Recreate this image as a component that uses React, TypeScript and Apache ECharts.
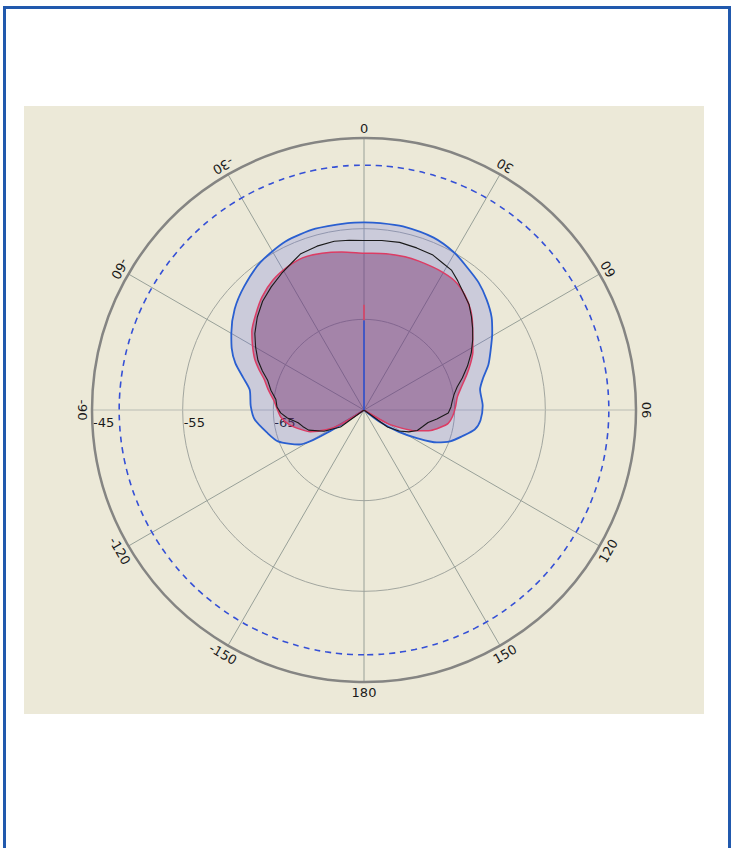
import React, { useEffect, useRef } from "react";
import * as echarts from "echarts";

// ---- data (angle in degrees clockwise from top, level in dB) ----
const ANGLE_TICKS = [0, 30, 60, 90, 120, 150, 180, -150, -120, -90, -60, -30];
const RADIUS_TICKS = [-45, -55, -65];
const R_MIN = -75;
const R_MAX = -45;
const LIMIT_DB = -48;

const BLUE_ANGLES = [-180, -125, -122, -118, -110, -103, -95, -88, -80, -75, -70, -65, -60, -52, -44, -35, -25, -15, -5, 0, 5, 12, 22, 30, 36, 42, 48, 54, 59, 65, 70, 75, 80, 88, 95, 100, 105, 110, 114, 118, 122, 127, 132, 180];
const BLUE_DB = [-75, -75, -70.6, -66.9, -64.9, -64.0, -62.9, -62.5, -62.2, -61.2, -59.9, -58.9, -58.1, -56.9, -56.0, -55.1, -54.5, -54.3, -54.3, -54.3, -54.3, -54.3, -54.5, -55.0, -55.6, -56.1, -56.8, -57.6, -58.5, -59.6, -60.4, -61.4, -62.0, -61.9, -62.1, -62.6, -63.8, -64.9, -66.2, -68.4, -70.4, -72.8, -75, -75];

const BLACK_ANGLES = [-180, -132, -126, -118, -110, -105, -101, -96, -92, -88, -83, -78, -73, -69, -65, -60, -55, -49, -43, -37, -31, -26, -22, -16, -10, -5, 0, 6, 12, 18, 24, 28, 32, 36, 40, 45, 49, 53, 57, 62, 67, 72, 76, 80, 84, 88, 92, 97, 101, 106, 111, 116, 121, 126, 131, 180];
const BLACK_DB = [-75, -75, -71.8, -70.0, -68.5, -68.0, -67.6, -66.5, -65.8, -65.4, -65.2, -64.5, -63.9, -63.0, -62.1, -61.2, -60.3, -59.4, -58.6, -58.0, -57.4, -56.9, -56.4, -56.2, -56.1, -56.2, -56.3, -56.2, -56.1, -56.2, -56.3, -56.6, -56.8, -57.4, -58.0, -58.6, -59.3, -60.0, -60.7, -61.6, -62.6, -63.6, -64.4, -64.9, -65.2, -65.4, -65.7, -66.9, -67.8, -68.3, -68.7, -69.5, -70.5, -71.8, -75, -75];

const RED_ANGLES = [-180, -128, -122, -118, -112, -107, -101, -95, -89, -84, -78, -73, -69, -65, -60, -55, -48, -42, -35, -28, -22, -15, -8, 0, 8, 15, 20, 28, 35, 41, 47, 52, 57, 62, 66, 71, 77, 82, 88, 94, 99, 103, 107, 112, 116, 120, 124, 180];
const RED_DB = [-75, -75, -72.0, -70.4, -68.6, -67.7, -66.6, -65.8, -65.4, -65.0, -64.2, -63.5, -62.6, -61.7, -60.8, -59.9, -59.0, -58.2, -57.5, -57.1, -56.9, -57.1, -57.4, -57.7, -57.6, -57.5, -57.5, -57.5, -57.6, -58.1, -58.9, -59.8, -60.7, -61.4, -62.1, -63.0, -64.0, -64.6, -64.9, -65.2, -65.6, -66.4, -67.3, -68.9, -70.5, -72.1, -75, -75];

// short markers on the 0° spoke
const BLUE_MARK_DB = [-75, -65.1];
const RED_MARK_DB = [-65.1, -63.4];

// ---- layout ----
const CHART_W = 680;
const CHART_H = 608;
const CX = CHART_W / 2;
const CY = CHART_H / 2;
const RADIUS = 272;
const LABEL_R = 282;
const FONT = '13px "DejaVu Sans"';

const toPolar = (angles: number[], vals: number[]) => angles.map((a, i) => [vals[i], a]);

export default function App() {
  const ref = useRef<HTMLDivElement>(null);

  useEffect(() => {
    if (!ref.current) return;
    const chart = echarts.init(ref.current, null, { renderer: "svg" });

    const ringAngles: number[] = [];
    for (let a = -180; a <= 180; a += 3) ringAngles.push(a);
    const ringData = ringAngles.map((a) => [LIMIT_DB, a]);

    const graphics: any[] = [];
    ANGLE_TICKS.forEach((t) => {
      const th = (t * Math.PI) / 180;
      graphics.push({
        type: "text",
        x: CX + LABEL_R * Math.sin(th),
        y: CY - LABEL_R * Math.cos(th),
        rotation: ((180 - t) * Math.PI) / 180,
        silent: true,
        style: { text: String(t), fill: "#1a1a1a", font: FONT, align: "center", verticalAlign: "middle" },
      });
    });
    RADIUS_TICKS.forEach((v) => {
      const r = ((v - R_MIN) / (R_MAX - R_MIN)) * RADIUS;
      graphics.push({
        type: "text",
        x: CX - r + 1,
        y: CY + 12,
        silent: true,
        style: { text: String(v), fill: "#1a1a1a", font: FONT, align: "left", verticalAlign: "middle" },
      });
    });

    const spokeColors = ["#98a098", "#98a098", "#98a098", "#b9bcb4", "#98a098", "#98a098"];

    chart.setOption({
      animation: false,
      backgroundColor: "#ece9d8",
      polar: { center: ["50%", "50%"], radius: RADIUS },
      angleAxis: {
        type: "value",
        min: -180,
        max: 180,
        interval: 30,
        startAngle: 270,
        clockwise: true,
        axisLine: { show: true, lineStyle: { color: "#858583", width: 2.5 } },
        axisTick: { show: false },
        axisLabel: { show: false },
        splitLine: { show: true, lineStyle: { color: spokeColors, width: 1 } },
      },
      radiusAxis: {
        type: "value",
        min: R_MIN,
        max: R_MAX,
        interval: 5,
        axisLine: { show: false },
        axisTick: { show: false },
        axisLabel: { show: false },
        splitLine: { show: true, lineStyle: { color: ["#a2a69f", "rgba(0,0,0,0)"], width: 1 } },
      },
      graphic: graphics,
      series: [
        {
          type: "line",
          coordinateSystem: "polar",
          data: ringData,
          smooth: true,
          symbol: "none",
          silent: true,
          lineStyle: { color: "#3550d6", width: 1.6, type: [6, 5] },
        },
        {
          type: "line",
          coordinateSystem: "polar",
          data: toPolar(BLUE_ANGLES, BLUE_DB),
          smooth: 0.25,
          symbol: "none",
          silent: true,
          lineStyle: { color: "#2a5fd0", width: 1.8 },
          areaStyle: { color: "rgba(90,100,230,0.32)", origin: "start" },
        },
        {
          type: "line",
          coordinateSystem: "polar",
          data: toPolar(RED_ANGLES, RED_DB),
          smooth: 0.25,
          symbol: "none",
          silent: true,
          lineStyle: { color: "#dc3c64", width: 1.5 },
          areaStyle: { color: "rgba(120,40,100,0.58)", origin: "start" },
        },
        {
          type: "line",
          coordinateSystem: "polar",
          data: toPolar(BLACK_ANGLES, BLACK_DB),
          smooth: false,
          symbol: "none",
          silent: true,
          lineStyle: { color: "#1a1a1a", width: 1.1 },
          areaStyle: { color: "rgba(60,60,140,0.07)", origin: "start" },
        },
        {
          type: "line",
          coordinateSystem: "polar",
          data: BLUE_MARK_DB.map((v) => [v, 0]),
          symbol: "none",
          silent: true,
          lineStyle: { color: "#2a4fd0", width: 1.5 },
        },
        {
          type: "line",
          coordinateSystem: "polar",
          data: RED_MARK_DB.map((v) => [v, 0]),
          symbol: "none",
          silent: true,
          lineStyle: { color: "#e04060", width: 1.5 },
        },
      ],
    });

    return () => chart.dispose();
  }, []);

  return (
    <div style={{ position: "absolute", left: 0, top: 0, width: 734, height: 848, overflow: "hidden", background: "#fff" }}>
      <div
        style={{
          position: "absolute",
          left: 3,
          top: 6,
          width: 722,
          height: 860,
          border: "3px solid #2159ad",
          background: "#fff",
        }}
      />
      <div ref={ref} style={{ position: "absolute", left: 24, top: 106, width: CHART_W, height: CHART_H }} />
    </div>
  );
}
